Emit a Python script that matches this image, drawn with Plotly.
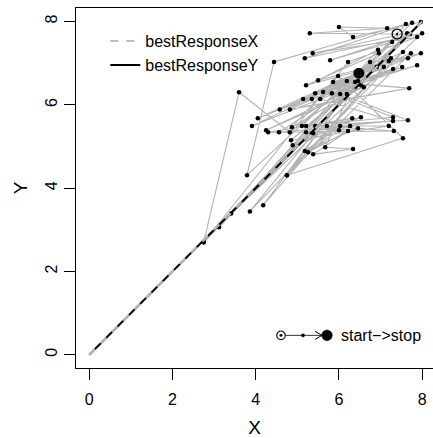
import plotly.graph_objects as go

# Trajectory of best responses (start -> stop)
traj_x = [7.40, 5.30, 7.16, 6.00, 6.34, 7.97, 2.75, 7.61, 4.44, 3.79,
          7.76, 5.18, 8.00, 3.41, 7.64, 5.37, 7.88, 6.22, 2.75, 3.60,
          4.82, 7.71, 5.79, 7.28, 3.12, 6.94, 5.50, 7.97, 4.05, 7.54,
          3.86, 6.96, 5.21, 7.66, 6.75, 4.18, 7.25, 5.43, 7.88, 4.58,
          7.20, 4.75, 7.73, 5.14, 7.52, 3.91, 6.91, 5.86, 7.69, 4.82,
          7.08, 5.62, 7.30, 4.87, 5.98, 7.54, 4.75, 6.39, 5.35, 6.53,
          4.25, 6.60, 5.83, 7.30, 5.11, 6.19, 5.55, 7.30, 4.56, 6.46,
          6.03, 7.66, 5.21, 6.19, 4.85, 7.20, 5.43, 6.32, 4.30, 7.32,
          5.71, 6.53, 4.89, 6.27, 5.21, 6.03, 5.18, 6.46, 5.38, 6.00,
          5.26, 6.22, 5.38, 6.34, 5.67, 6.48]
traj_y = [7.70, 7.72, 7.84, 7.87, 7.63, 7.99, 2.70, 7.94, 7.03, 4.31,
          7.97, 7.12, 7.72, 3.39, 7.72, 7.24, 7.63, 7.03, 2.70, 6.30,
          5.34, 7.70, 7.07, 7.51, 3.06, 7.32, 6.59, 7.24, 5.68, 7.27,
          3.44, 7.24, 6.47, 7.12, 7.03, 3.59, 7.12, 6.28, 6.95, 5.89,
          7.05, 4.31, 7.24, 6.14, 6.91, 5.49, 6.91, 6.55, 6.40, 5.89,
          6.91, 6.31, 6.86, 5.46, 6.69, 5.20, 4.31, 6.55, 6.14, 6.47,
          5.39, 6.42, 6.28, 5.70, 5.49, 6.57, 6.14, 5.61, 5.34, 6.57,
          6.26, 5.63, 5.49, 6.26, 5.15, 5.49, 5.49, 5.68, 5.34, 5.37,
          5.49, 5.70, 5.03, 5.49, 5.34, 5.49, 4.89, 5.44, 5.32, 5.39,
          4.86, 5.37, 4.81, 4.94, 4.98, 6.76]

# Best-response curves
brx_x = [0, 2, 4, 6, 8]
brx_y = [0, 2, 4, 6, 8]
bry_x = [0, 2, 4, 6, 8]
bry_y = [0, 2, 4, 6, 8]

x_ticks = [0, 2, 4, 6, 8]
y_ticks = [0, 2, 4, 6, 8]

FONT = "Liberation Sans, Arial, sans-serif"
GRAY = "#b3b3b3"

fig = go.Figure()
fig.add_trace(go.Scatter(x=traj_x, y=traj_y, mode="lines",
                         line=dict(color=GRAY, width=1.1), showlegend=False,
                         hoverinfo="skip"))
fig.add_trace(go.Scatter(x=traj_x[1:-1], y=traj_y[1:-1], mode="markers",
                         marker=dict(color="black", size=4.5), showlegend=False))
fig.add_trace(go.Scatter(x=bry_x, y=bry_y, mode="lines", name="bestResponseY",
                         line=dict(color="black", width=2)))
fig.add_trace(go.Scatter(x=brx_x, y=brx_y, mode="lines", name="bestResponseX",
                         line=dict(color="#bebebe", width=2, dash="8px,8px")))
fig.add_trace(go.Scatter(x=[traj_x[0]], y=[traj_y[0]], mode="markers", showlegend=False,
                         marker=dict(symbol="circle-open-dot", size=10, color="black",
                                     line=dict(width=1.3, color="black"))))
fig.add_trace(go.Scatter(x=[traj_x[-1]], y=[traj_y[-1]], mode="markers", showlegend=False,
                         marker=dict(symbol="circle", size=11, color="black")))

# bottom-right key: start -> stop (pixel-sized shapes anchored in paper coords)
PL, PW, PB, PH = 76, 357, 367.6, 359.6
def px(xp):
    return (xp - PL) / PW
KY = (PB - 335) / PH

fig.add_shape(type="line", xref="paper", yref="paper", x0=px(281), x1=px(322), y0=KY, y1=KY,
              line=dict(color="black", width=0.8))
def circ(xc, r, fill, lw=1.0):
    fig.add_shape(type="circle", xref="paper", yref="paper",
                  xsizemode="pixel", ysizemode="pixel", xanchor=px(xc), yanchor=KY,
                  x0=-r, x1=r, y0=-r, y1=r,
                  fillcolor=fill, line=dict(color="black", width=lw))
circ(281, 4.3, "white", 1.1)
circ(281, 1.2, "black", 0.5)
circ(303, 1.6, "black", 0.5)
circ(327, 5.3, "black", 0.5)
fig.add_shape(type="path", xref="paper", yref="paper",
              xsizemode="pixel", ysizemode="pixel", xanchor=px(322), yanchor=KY,
              path="M-7,4 L0,0 L-7,-4", line=dict(color="black", width=1))
fig.add_annotation(x=px(339), y=KY, xref="paper", yref="paper",
                   text="start\u2212>stop", showarrow=False, xanchor="left", yanchor="middle",
                   font=dict(family=FONT, size=16, color="black"))

fig.update_layout(
    width=433, height=438,
    margin=dict(l=76, r=0, t=8, b=70.4),
    plot_bgcolor="white", paper_bgcolor="white",
    font=dict(family=FONT, size=16, color="black"),
    legend=dict(x=0.082, y=0.955, xanchor="left", yanchor="top", bgcolor="rgba(0,0,0,0)",
                traceorder="reversed", itemwidth=30, font=dict(size=16)),
    xaxis=dict(range=[-0.32, 8.262], tickvals=x_ticks, showgrid=False, zeroline=False,
               showline=True, mirror=True, linecolor="black", linewidth=1,
               ticks="outside", ticklen=11, tickcolor="black",
               ticklabelstandoff=6,
               title=dict(text="X", standoff=14)),
    yaxis=dict(range=[-0.32, 8.325], tickvals=y_ticks, showgrid=False, zeroline=False,
               showline=True, linecolor="black", linewidth=1,
               ticks="outside", ticklen=11, tickcolor="black", tickangle=-90,
               ticklabelstandoff=1,
               title=dict(text="Y", standoff=9)),
)

fig.write_html("out.html")
